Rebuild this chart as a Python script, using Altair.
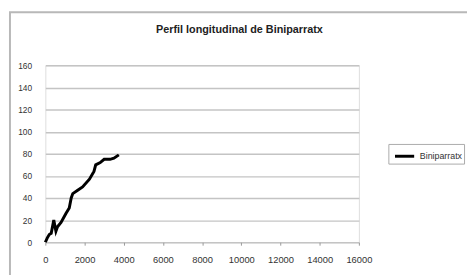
import altair as alt
import pandas as pd

# --- data ---
distancia = [0, 100, 200, 300, 430, 540, 620, 800, 1050, 1220, 1320, 1400, 1650, 1900,
             2250, 2480, 2570, 2800, 3000, 3300, 3500, 3750]
cota = [0, 4, 7, 8, 20, 10, 14, 18, 26, 31, 40, 44, 47, 50, 57, 64, 70, 72, 75, 75, 76, 79]
serie = "Biniparratx"
titulo = "Perfil longitudinal de Biniparratx"
x_ticks = [0, 2000, 4000, 6000, 8000, 10000, 12000, 14000, 16000]
y_ticks = [0, 20, 40, 60, 80, 100, 120, 140, 160]

df = pd.DataFrame({"distancia": distancia, "cota": cota, "serie": [serie] * len(distancia)})
one = pd.DataFrame({"a": [0]})

FONT = "Liberation Sans"
W, H = 319, 180

line = alt.Chart(df).mark_line(strokeWidth=3).encode(
    x=alt.X("distancia:Q",
            scale=alt.Scale(domain=[0, 16000], nice=False),
            axis=alt.Axis(values=x_ticks, title=None, grid=False, domain=False, format="d",
                          tickColor="#999999", tickSize=3, labelFontSize=9.5,
                          labelColor="#333333", labelPadding=10, labelFlush=False)),
    y=alt.Y("cota:Q",
            scale=alt.Scale(domain=[0, 160], nice=False),
            axis=alt.Axis(values=y_ticks, title=None, grid=True, gridColor="#c4c4c4",
                          gridWidth=1.5, domain=False, ticks=False, labelFontSize=8.5,
                          labelColor="#333333", labelPadding=14)),
    color=alt.Color("serie:N",
                    scale=alt.Scale(domain=[serie], range=["black"]),
                    legend=alt.Legend(title=None, orient="none", legendX=349, legendY=80,
                                      symbolType="stroke", symbolStrokeWidth=3,
                                      symbolSize=380, symbolOffset=4,
                                      strokeColor="#aaaaaa", fillColor="white", padding=1,
                                      labelExpr="datum.label + '\u00a0\u00a0'",
                                      labelFontSize=9, labelColor="#333333")),
)

frame = alt.Chart(one).mark_rect(fill=None, stroke="#b8b8b8", strokeWidth=2).encode(
    x=alt.value(-36), x2=alt.value(560), y=alt.value(-54), y2=alt.value(360))

chart = alt.layer(frame, line).properties(
    width=W, height=H,
    title=alt.TitleParams(titulo, fontSize=11, fontWeight="bold", color="#222222",
                          anchor="middle", frame="group", dx=38, offset=0, dy=24),
    padding={"left": 38, "top": 56, "right": 110, "bottom": 31},
    autosize="none",
).configure_view(stroke="#888888", strokeWidth=1.5).configure(font=FONT)

chart.save("out.html", embed_options={"renderer": "svg", "actions": False})
